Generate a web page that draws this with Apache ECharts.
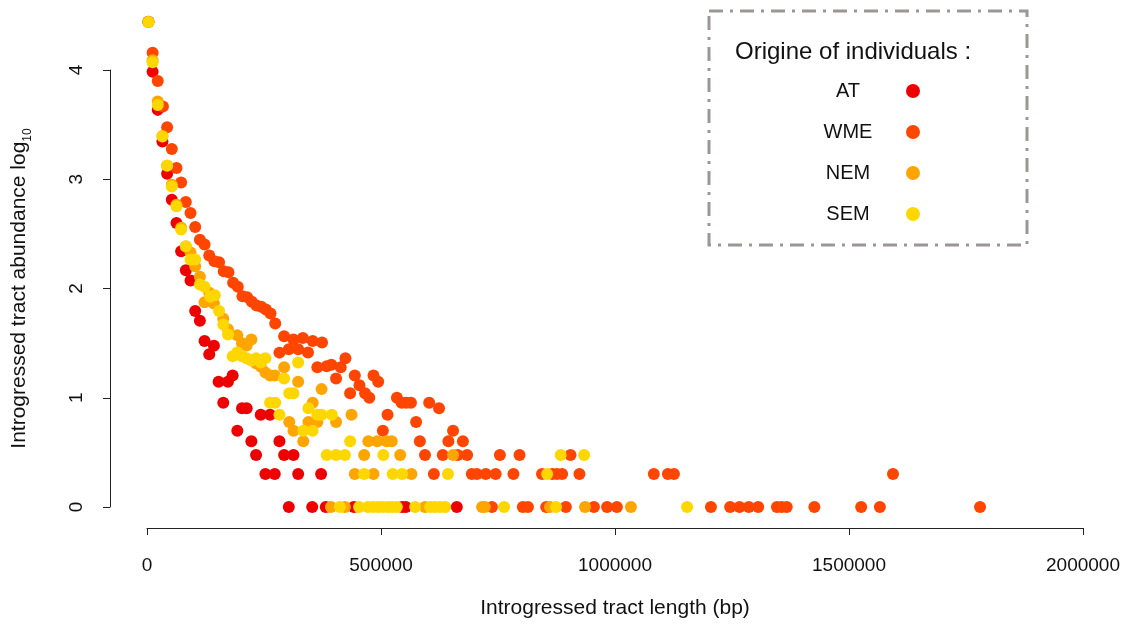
<!DOCTYPE html>
<html>
<head>
<meta charset="utf-8">
<script src="https://cdn.jsdelivr.net/npm/echarts@6/dist/echarts.min.js"></script>
<style>
  html, body { margin: 0; padding: 0; background: #fff; }
  #chart { width: 1127px; height: 624px; }
</style>
</head>
<body>
<div id="chart"></div>
<script>
// origin of individuals, drawn in this order (last one on top)
const seriesNames = ['AT', 'WME', 'NEM', 'SEM']
const seriesColors = ['#EE0000', '#FF4500', '#FFA500', '#FFD700']

// [tract length (bp), log10 abundance]
const atPoints = [
  [3000, 4.441], [12000, 3.985], [23000, 3.635], [33000, 3.345], [43000, 3.05], [53000, 2.813],
  [63000, 2.6], [73000, 2.341], [83000, 2.167], [93000, 2.073], [103000, 1.795], [113000, 1.705],
  [123000, 1.519], [133000, 1.398], [143000, 1.477], [153000, 1.146], [163000, 0.954], [173000, 1.146],
  [183000, 1.204], [193000, 0.699], [203000, 0.903], [213000, 0.903], [223000, 0.602], [233000, 0.477],
  [243000, 0.845], [253000, 0.301], [263000, 0.845], [273000, 0.301], [283000, 0.602], [293000, 0.477],
  [303000, 0], [313000, 0.477], [323000, 0.301], [353000, 0], [372000, 0.301], [382000, 0],
  [442000, 0], [545000, 0], [553000, 0], [662000, 0]
]
const wmePoints = [
  [3000, 4.44], [12000, 4.158], [23000, 3.9], [34000, 3.665], [43000, 3.477], [53000, 3.276],
  [63000, 3.102], [73000, 2.971], [83000, 2.792], [93000, 2.691], [103000, 2.563], [113000, 2.447],
  [123000, 2.402], [133000, 2.301], [144000, 2.249], [154000, 2.24], [164000, 2.158], [174000, 2.149],
  [184000, 2.052], [194000, 2.016], [204000, 1.93], [214000, 1.921], [224000, 1.879], [234000, 1.845],
  [244000, 1.833], [254000, 1.808], [264000, 1.772], [274000, 1.68], [283000, 1.413], [293000, 1.564],
  [303000, 1.443], [313000, 1.534], [323000, 1.443], [333000, 1.546], [344000, 1.415], [354000, 1.519],
  [364000, 1.279], [374000, 1.505], [384000, 1.288], [394000, 1.301], [404000, 1.176], [414000, 1.279],
  [424000, 1.362], [434000, 1.041], [444000, 1.204], [454000, 1.114], [466000, 1.041], [475000, 1],
  [484000, 1.204], [494000, 1.146], [504000, 0.699], [514000, 0.845], [534000, 1], [544000, 0.954],
  [554000, 0.954], [564000, 0.954], [575000, 0.778], [583000, 0.602], [594000, 0.477], [603000, 0.954],
  [613000, 0.301], [624000, 0.903], [632000, 0.477], [644000, 0.602], [654000, 0.699], [664000, 0.477],
  [675000, 0.602], [684000, 0.477], [694000, 0.301], [705000, 0.301], [724000, 0.301], [737000, 0],
  [745000, 0.301], [754000, 0.477], [783000, 0.301], [796000, 0.477], [803000, 0], [814000, 0],
  [844000, 0.301], [853000, 0], [866000, 0.301], [876000, 0.301], [887000, 0.301], [895000, 0],
  [905000, 0.477], [924000, 0.301], [955000, 0], [983000, 0], [1004000, 0], [1083000, 0.301],
  [1113000, 0.301], [1126000, 0.301], [1205000, 0], [1246000, 0], [1266000, 0], [1286000, 0],
  [1306000, 0], [1346000, 0], [1356000, 0], [1367000, 0], [1426000, 0], [1526000, 0],
  [1566000, 0], [1594000, 0.301], [1780000, 0]
]
const nemPoints = [
  [3000, 4.44], [12000, 4.09], [23000, 3.711], [33000, 3.397], [43000, 3.123], [53000, 2.95],
  [63000, 2.767], [73000, 2.557], [83000, 2.384], [93000, 2.329], [103000, 2.204], [113000, 2.107],
  [123000, 1.875], [133000, 1.961], [143000, 1.863], [163000, 1.723], [173000, 1.626], [193000, 1.571],
  [203000, 1.498], [213000, 1.479], [223000, 1.534], [233000, 1.315], [243000, 1.285], [253000, 1.23],
  [263000, 1.204], [273000, 1.204], [293000, 1.279], [304000, 0.778], [313000, 0.699], [323000, 1.146],
  [334000, 0.602], [345000, 0.778], [354000, 0.954], [364000, 0.778], [373000, 1.079], [393000, 0],
  [404000, 0.778], [423000, 0], [437000, 0.845], [444000, 0.301], [464000, 0.477], [473000, 0.602],
  [484000, 0.301], [492000, 0.602], [512000, 0.602], [523000, 0.602], [541000, 0.477], [565000, 0.301],
  [594000, 0], [654000, 0.477], [716000, 0], [722000, 0], [861000, 0], [936000, 0], [1034000, 0]
]
const semPoints = [
  [3000, 4.44], [12000, 4.07], [23000, 3.68], [33000, 3.391], [43000, 3.126], [53000, 2.934],
  [63000, 2.752], [73000, 2.539], [83000, 2.386], [93000, 2.265], [103000, 2.265], [113000, 2.037],
  [123000, 2.016], [135000, 1.924], [145000, 1.939], [154000, 1.793], [163000, 1.671], [173000, 1.58],
  [183000, 1.38], [193000, 1.415], [203000, 1.38], [213000, 1.362], [223000, 1.342], [233000, 1.362],
  [243000, 1.322], [253000, 1.362], [263000, 0.954], [274000, 0.954], [283000, 0.845], [293000, 1.176],
  [304000, 1.041], [313000, 1.041], [323000, 1.322], [334000, 0.699], [345000, 0.903], [354000, 0.699],
  [364000, 0.845], [373000, 0.845], [384000, 0.477], [395000, 0.845], [404000, 0.477], [412000, 0],
  [423000, 0.477], [434000, 0.602], [453000, 0], [464000, 0.301], [472000, 0], [483000, 0],
  [494000, 0], [504000, 0], [505000, 0.477], [515000, 0], [524000, 0], [525000, 0.301],
  [534000, 0], [545000, 0.301], [573000, 0], [605000, 0], [615000, 0], [626000, 0],
  [637000, 0], [643000, 0.301], [763000, 0], [855000, 0.301], [874000, 0], [884000, 0.477],
  [934000, 0.477], [1154000, 0]
]
const allPoints = [atPoints, wmePoints, nemPoints, semPoints]

const font = 'Liberation Sans, Arial, sans-serif'
const axisColor = '#222'

const myChart = echarts.init(document.getElementById('chart'))
myChart.setOption({
  animation: false,
  backgroundColor: '#fff',
  textStyle: { fontFamily: font },
  grid: { left: 147, right: 44, top: 70, bottom: 116 },
  xAxis: {
    type: 'value',
    min: 0,
    max: 2000000,
    interval: 500000,
    offset: 21,
    name: 'Introgressed tract length (bp)',
    nameLocation: 'middle',
    nameGap: 70,
    nameTextStyle: { fontSize: 21, color: '#111', fontFamily: font },
    axisLine: { show: true, onZero: false, lineStyle: { color: axisColor, width: 1 } },
    axisTick: { show: true, length: 7, lineStyle: { color: axisColor } },
    axisLabel: { margin: 28, fontSize: 19, color: '#111', fontFamily: font, formatter: v => String(v) },
    splitLine: { show: false }
  },
  yAxis: {
    type: 'value',
    min: 0,
    max: 4,
    interval: 1,
    offset: 37,
    name: '{a|Introgressed tract abundance log}{b|10}',
    nameLocation: 'middle',
    nameRotate: 90,
    nameGap: 80,
    nameTextStyle: {
      rich: {
        a: { fontSize: 21, color: '#111', fontFamily: font, lineHeight: 26, verticalAlign: 'bottom' },
        b: { fontSize: 12, color: '#111', fontFamily: font, lineHeight: 14, verticalAlign: 'bottom', padding: [0, 0, -4, 0] }
      }
    },
    axisLine: { show: true, onZero: false, lineStyle: { color: axisColor, width: 1 } },
    axisTick: { show: true, length: 7, lineStyle: { color: axisColor } },
    axisLabel: { margin: 24, rotate: 90, fontSize: 19, color: '#111', fontFamily: font },
    splitLine: { show: false }
  },
  legend: {
    orient: 'vertical',
    left: 795,
    top: 81,
    align: 'right',
    padding: 0,
    itemWidth: 14,
    itemHeight: 14,
    itemGap: 21,
    icon: 'circle',
    selectedMode: false,
    data: seriesNames,
    formatter: name => '{c|' + name + '}',
    textStyle: {
      rich: {
        c: { width: 106, align: 'center', fontSize: 20, lineHeight: 20, color: '#111', fontFamily: font }
      }
    }
  },
  graphic: [
    {
      type: 'rect',
      shape: { x: 709, y: 11, width: 318, height: 234 },
      style: { fill: 'none', stroke: '#9c9696', lineWidth: 3, lineDash: [14, 7, 3, 7] },
      silent: true
    },
    {
      type: 'text',
      x: 735,
      y: 52,
      style: { text: 'Origine of individuals :', fontSize: 24, fill: '#111', fontFamily: font, verticalAlign: 'middle' },
      silent: true
    }
  ],
  series: seriesNames.map((name, i) => ({
    name: name,
    type: 'scatter',
    clip: false,
    symbol: 'circle',
    symbolSize: 12,
    itemStyle: { color: seriesColors[i], opacity: 1 },
    data: allPoints[i]
  }))
})
</script>
</body>
</html>
